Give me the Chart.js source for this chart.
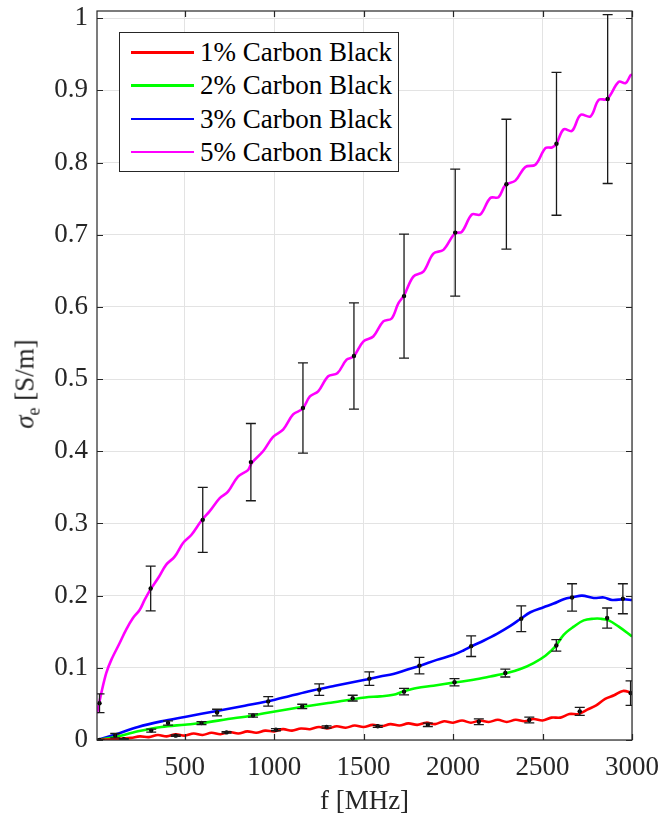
<!DOCTYPE html>
<html>
<head>
<meta charset="utf-8">
<script src="https://cdn.jsdelivr.net/npm/chart.js@4.4.1/dist/chart.umd.min.js"></script>
<style>
body{margin:0;background:#fff}
#wrap{position:relative;width:660px;height:818px}
#legend{position:absolute;left:119px;top:32px;width:278px;height:138px;border:1px solid #262626;background:#fff;font:27px "Liberation Serif",serif;color:#000}
.row{position:absolute;left:0;width:100%;height:33px;line-height:33px;white-space:nowrap}
.row i{position:absolute;left:11px;top:15px;width:63px;height:2.5px}
.row span{position:absolute;left:80px;top:0}
#ylab{position:absolute;left:27px;top:384px;transform:translate(-50%,-50%) rotate(-90deg);font:27px "Liberation Serif",serif;color:#262626;white-space:nowrap}
#ylab sub{font-size:18px;vertical-align:-6px}
</style>
</head>
<body>
<div id="wrap">
  <canvas id="chart"></canvas>
  <div id="legend"></div>
  <div id="ylab"><i>σ</i><sub>e</sub> [S/m]</div>
</div>
<script>
// axis ticks
const xTicks = [500, 1000, 1500, 2000, 2500, 3000]
const xTickLabels = ['500', '1000', '1500', '2000', '2500', '3000']
const yTicks = [0, 0.1, 0.2, 0.3, 0.4, 0.5, 0.6, 0.7, 0.8, 0.9, 1]
const yTickLabels = ['0', '0.1', '0.2', '0.3', '0.4', '0.5', '0.6', '0.7', '0.8', '0.9', '1']

const seriesNames = ['1% Carbon Black', '2% Carbon Black', '3% Carbon Black', '5% Carbon Black']
const seriesColors = ['#ff0000', '#00ff00', '#0000ff', '#ff00ff']

// measured curves, f in MHz
const redF = [10, 50, 100, 150, 200, 250, 300, 350, 400, 450, 500, 550, 600, 650, 700, 750, 800, 850, 900, 950, 1000, 1050, 1100, 1150, 1200, 1250, 1300, 1350, 1400, 1450, 1500, 1550, 1600, 1650, 1700, 1750, 1800, 1850, 1900, 1950, 2000, 2050, 2100, 2150, 2200, 2250, 2300, 2350, 2400, 2450, 2500, 2550, 2600, 2650, 2700, 2750, 2800, 2850, 2900, 2950, 3000]
const redV = [0, 0.0005, 0.001, 0.002, 0.003, 0.005, 0.004, 0.007, 0.005, 0.008, 0.006, 0.009, 0.007, 0.010, 0.008, 0.011, 0.009, 0.012, 0.010, 0.013, 0.012, 0.015, 0.013, 0.016, 0.015, 0.018, 0.016, 0.019, 0.017, 0.020, 0.018, 0.021, 0.019, 0.022, 0.020, 0.023, 0.021, 0.024, 0.022, 0.026, 0.024, 0.027, 0.024, 0.027, 0.025, 0.028, 0.025, 0.028, 0.026, 0.029, 0.027, 0.031, 0.031, 0.036, 0.036, 0.042, 0.048, 0.057, 0.062, 0.068, 0.065]

const greenF = [10, 108, 239, 369, 500, 594, 742, 873, 1004, 1153, 1302, 1508, 1592, 1666, 1722, 1797, 1890, 2012, 2114, 2208, 2301, 2376, 2450, 2516, 2572, 2618, 2674, 2730, 2786, 2824, 2870, 2926, 3000]
const greenV = [0, 0.004, 0.012, 0.018, 0.0212, 0.0235, 0.029, 0.0337, 0.0396, 0.0457, 0.0512, 0.059, 0.0604, 0.0627, 0.0673, 0.072, 0.0752, 0.0798, 0.0835, 0.088, 0.0928, 0.0983, 0.1066, 0.1168, 0.1296, 0.1458, 0.157, 0.1657, 0.168, 0.168, 0.1657, 0.157, 0.1435]

const blueF = [10, 108, 239, 369, 500, 687, 836, 1004, 1190, 1340, 1508, 1592, 1666, 1741, 1816, 1909, 2002, 2058, 2105, 2170, 2245, 2320, 2376, 2432, 2506, 2562, 2618, 2674, 2721, 2786, 2842, 2889, 2954, 3000]
const blueV = [0, 0.0073, 0.018, 0.0258, 0.032, 0.0406, 0.0475, 0.0558, 0.0673, 0.0752, 0.0835, 0.088, 0.0914, 0.0974, 0.103, 0.111, 0.118, 0.124, 0.130, 0.1375, 0.147, 0.158, 0.1676, 0.177, 0.184, 0.189, 0.195, 0.198, 0.200, 0.1967, 0.1975, 0.194, 0.195, 0.194]

const pinkF = [10, 34, 62, 90, 136, 173, 211, 248, 276, 310, 351, 397, 444, 491, 537, 594, 640, 696, 742, 798, 854, 875, 938, 994, 1050, 1106, 1159, 1200, 1246, 1302, 1353, 1405, 1443, 1498, 1554, 1610, 1657, 1694, 1726, 1778, 1834, 1890, 1946, 2010, 2049, 2105, 2152, 2208, 2254, 2293, 2348, 2404, 2460, 2516, 2553, 2577, 2618, 2665, 2712, 2768, 2814, 2861, 2926, 2964, 2992, 3000]
const pinkV = [0.037, 0.065, 0.093, 0.111, 0.134, 0.153, 0.169, 0.180, 0.194, 0.209, 0.224, 0.243, 0.254, 0.273, 0.284, 0.304, 0.317, 0.335, 0.344, 0.365, 0.374, 0.384, 0.400, 0.420, 0.430, 0.451, 0.459, 0.476, 0.483, 0.504, 0.508, 0.527, 0.531, 0.552, 0.559, 0.580, 0.584, 0.605, 0.616, 0.642, 0.649, 0.674, 0.679, 0.702, 0.704, 0.728, 0.728, 0.751, 0.752, 0.769, 0.775, 0.794, 0.797, 0.820, 0.821, 0.826, 0.846, 0.844, 0.866, 0.864, 0.887, 0.888, 0.912, 0.910, 0.921, 0.922]

// error bar samples: position, mean, half-width
const redErrF = [160, 450, 734, 1010, 1293, 1579, 1859, 2144, 2426, 2708, 2992]
const redErrV = [0.001, 0.006, 0.0105, 0.0143, 0.018, 0.019, 0.021, 0.0253, 0.0277, 0.0397, 0.065]
const redErrE = [0.001, 0.001, 0.001, 0.0015, 0.0015, 0.0014, 0.0023, 0.004, 0.004, 0.0055, 0.017]

const greenErrF = [24, 313, 594, 882, 1157, 1439, 1726, 2008, 2292, 2577, 2861]
const greenErrV = [0, 0.013, 0.0235, 0.034, 0.0465, 0.058, 0.067, 0.080, 0.0928, 0.131, 0.169]
const greenErrE = [0.001, 0.002, 0.002, 0.0023, 0.003, 0.004, 0.0046, 0.005, 0.0055, 0.008, 0.0139]

const blueErrF = [112, 407, 681, 967, 1252, 1532, 1812, 2101, 2381, 2665, 2949]
const blueErrV = [0.006, 0.0235, 0.038, 0.0535, 0.0697, 0.085, 0.103, 0.130, 0.168, 0.1975, 0.1957]
const blueErrE = [0.003, 0.003, 0.0046, 0.0065, 0.008, 0.0093, 0.0115, 0.0143, 0.0178, 0.019, 0.0208]

const pinkErrF = [24, 310, 601, 870, 1161, 1446, 1726, 2012, 2298, 2578, 2864]
const pinkErrV = [0.051, 0.21, 0.305, 0.385, 0.46, 0.532, 0.615, 0.703, 0.770, 0.826, 0.888]
const pinkErrE = [0.013, 0.031, 0.045, 0.0535, 0.0625, 0.0735, 0.086, 0.088, 0.090, 0.099, 0.117]

const lines = [[redF, redV], [greenF, greenV], [blueF, blueV], [pinkF, pinkV]]
const errs = [[redErrF, redErrV, redErrE], [greenErrF, greenErrV, greenErrE], [blueErrF, blueErrV, blueErrE], [pinkErrF, pinkErrV, pinkErrE]]

const pts = (fs, vs) => fs.map((f, i) => ({x: f, y: vs[i]}))

// legend (html)
const leg = document.getElementById('legend')
seriesNames.forEach((n, i) => {
  const r = document.createElement('div')
  r.className = 'row'
  r.style.top = (3 + i * 33.3) + 'px'
  r.innerHTML = `<i style="background:${seriesColors[i]}"></i><span>${n}</span>`
  leg.appendChild(r)
})

const FONT = {family: '"Liberation Serif", serif', size: 27}
const INK = '#262626'

const errorBars = {
  id: 'errorBars',
  afterDatasetsDraw(chart) {
    const {ctx, chartArea: a, scales: {x, y}} = chart
    ctx.save()
    ctx.beginPath(); ctx.rect(a.left, a.top, a.right - a.left, a.bottom - a.top); ctx.clip()
    ctx.strokeStyle = '#1a1a1a'; ctx.lineWidth = 1.3
    errs.forEach(([fs, vs, es]) => {
      fs.forEach((f, i) => {
        const px = x.getPixelForValue(f)
        const lo = y.getPixelForValue(vs[i] - es[i])
        const hi = y.getPixelForValue(vs[i] + es[i])
        ctx.beginPath()
        ctx.moveTo(px, lo); ctx.lineTo(px, hi)
        ctx.moveTo(px - 5, lo); ctx.lineTo(px + 5, lo)
        ctx.moveTo(px - 5, hi); ctx.lineTo(px + 5, hi)
        ctx.stroke()
      })
    })
    ctx.restore()
  }
}

const frame = {
  id: 'frame',
  afterDraw(chart) {
    const {ctx, chartArea: a, scales: {x, y}} = chart
    ctx.save()
    ctx.strokeStyle = INK; ctx.lineWidth = 1.2
    ctx.strokeRect(a.left, a.top, a.right - a.left, a.bottom - a.top)
    ctx.beginPath()
    xTicks.forEach(v => {
      const px = Math.round(x.getPixelForValue(v)) + 0.5
      ctx.moveTo(px, a.bottom); ctx.lineTo(px, a.bottom - 6)
      ctx.moveTo(px, a.top); ctx.lineTo(px, a.top + 6)
    })
    yTicks.forEach(v => {
      const py = Math.round(y.getPixelForValue(v)) + 0.5
      ctx.moveTo(a.left, py); ctx.lineTo(a.left + 6, py)
      ctx.moveTo(a.right, py); ctx.lineTo(a.right - 6, py)
    })
    ctx.stroke()
    ctx.restore()
  }
}

const datasets = []
errs.forEach(([fs, vs]) => datasets.push({
  data: pts(fs, vs), showLine: false, pointRadius: 2.2, pointBackgroundColor: '#000', pointBorderWidth: 0, order: 0
}))
lines.forEach(([fs, vs], i) => datasets.push({
  data: pts(fs, vs), showLine: true, borderColor: seriesColors[i], borderWidth: 2.6, pointRadius: 0, tension: 0.35, order: 1
}))

const cv = document.getElementById('chart')
cv.width = 660; cv.height = 818
new Chart(cv, {
  type: 'scatter',
  data: {datasets},
  options: {
    responsive: false, animation: false, devicePixelRatio: 1,
    layout: {padding: {top: 11, right: 28, left: 0, bottom: 0}},
    plugins: {legend: {display: false}, tooltip: {enabled: false}},
    scales: {
      x: {
        type: 'linear', min: 10, max: 3000,
        afterBuildTicks: s => { s.ticks = xTicks.map(v => ({value: v})) },
        afterFit: s => { s.height = 78; s.paddingLeft = 0; s.paddingRight = 0 },
        grid: {color: '#e3e3e3', drawTicks: false},
        border: {display: false},
        ticks: {font: FONT, color: INK, padding: 12, maxRotation: 0, callback: (v, i) => xTickLabels[i]},
        title: {display: true, text: 'f [MHz]', font: FONT, color: INK, padding: 0}
      },
      y: {
        type: 'linear', min: 0, max: 1.01,
        afterBuildTicks: s => { s.ticks = yTicks.map(v => ({value: v})) },
        afterFit: s => { s.width = 97; s.paddingTop = 0; s.paddingBottom = 0 },
        grid: {color: '#e3e3e3', drawTicks: false},
        border: {display: false},
        ticks: {font: FONT, color: INK, padding: 9, callback: (v, i) => yTickLabels[i]}
      }
    }
  },
  plugins: [errorBars, frame]
})
</script>
</body>
</html>
